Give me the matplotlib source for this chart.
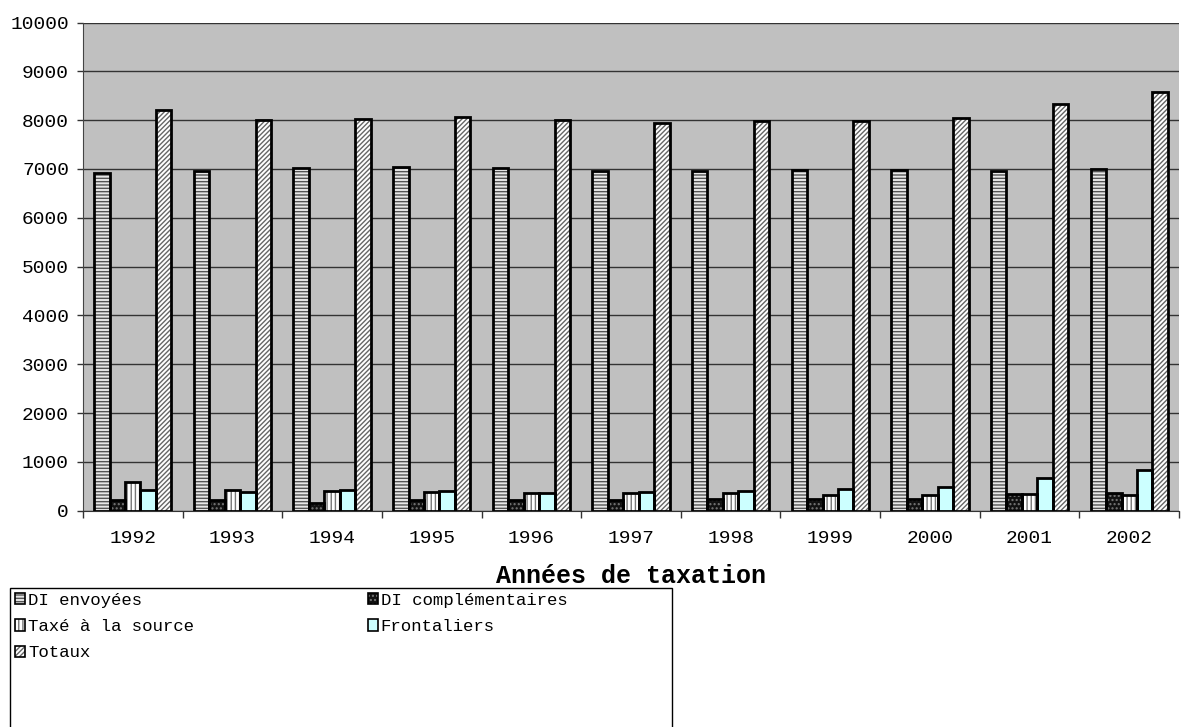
import numpy as np
import matplotlib.pyplot as plt
from matplotlib.patches import Patch, Rectangle

plt.rcParams['font.family'] = ['Liberation Mono', 'DejaVu Sans Mono']
plt.rcParams['hatch.linewidth'] = 1.0

annees = ['1992', '1993', '1994', '1995', '1996', '1997', '1998', '1999', '2000', '2001', '2002']
di_envoyees = [6920, 6950, 7030, 7040, 7030, 6960, 6960, 6970, 6980, 6950, 7010]
di_compl = [225, 210, 165, 220, 210, 210, 240, 230, 240, 350, 370]
taxe_source = [595, 430, 410, 380, 370, 370, 360, 330, 330, 340, 330]
frontaliers = [430, 390, 420, 400, 370, 390, 410, 440, 490, 680, 840]
totaux = [8200, 8000, 8030, 8060, 8000, 7950, 7990, 7990, 8050, 8330, 8580]

series = [
    ('DI envoyées', di_envoyees, '#e8e8e8', '#555555', '-----'),
    ('DI complémentaires', di_compl, '#111111', '#777777', '....'),
    ('Taxé à la source', taxe_source, '#ffffff', '#777777', '||||'),
    ('Frontaliers', frontaliers, '#ccffff', '#000000', None),
    ('Totaux', totaux, '#ffffff', '#666666', '///////'),
]

fig = plt.figure(figsize=(11.85, 7.27), dpi=100)
ax = fig.add_axes([0.070, 0.2975, 0.925, 0.6715])
ax.set_facecolor('#c0c0c0')

x = np.arange(len(annees))
w = 0.155
handles = {}
for i, (nom, vals, fc, hc, hatch) in enumerate(series):
    pos = x + (i - 2) * w
    ax.bar(pos, vals, w, color=fc, edgecolor=hc, hatch=hatch, linewidth=0, zorder=3)
    ax.bar(pos, vals, w, fill=False, edgecolor='black', linewidth=2, zorder=4)
    handles[nom] = (Patch(facecolor=fc, edgecolor=hc, hatch=hatch, linewidth=0),
                    Patch(fill=False, edgecolor='black', linewidth=1.2))

ax.set_xlim(-0.5, len(annees) - 0.5)
ax.set_ylim(0, 10000)
ax.set_yticks(range(0, 10001, 1000))
ax.yaxis.grid(True, color='#333333', linewidth=1, zorder=0)
ax.set_axisbelow(True)
ax.set_xticks(x)
ax.set_xticklabels(annees)
ax.set_xticks(np.arange(-0.5, len(annees)), minor=True)
ax.tick_params(axis='x', which='major', length=0, pad=14, labelsize=14)
ax.tick_params(axis='x', which='minor', length=5, width=1, color='#333333')
ax.tick_params(axis='y', length=4, width=1, color='#333333', pad=6, labelsize=14)
for s in ['top', 'right']:
    ax.spines[s].set_visible(False)
ax.spines['left'].set_color('#444444')
ax.spines['bottom'].set_color('#333333')
ax.set_xlabel('Années de taxation', fontsize=18, fontweight='bold', labelpad=12)

# cadre de la légende (coupé par le bas de l'image)
fig.patches.append(Rectangle((10 / 1185, -0.01), 662 / 1185, (727 - 588) / 727 + 0.01,
                             transform=fig.transFigure, fill=False,
                             edgecolor='black', linewidth=1))

order = ['DI envoyées', 'Taxé à la source', 'Totaux', 'DI complémentaires', 'Frontaliers']
fig.legend([handles[n] for n in order], order, ncol=2,
           loc='upper left', bbox_to_anchor=(15 / 1185, 1 - 593 / 727),
           fontsize=12.5, frameon=False,
           handlelength=0.6, handleheight=0.6, handletextpad=0.15,
           columnspacing=10, labelspacing=0.64, borderpad=0,
           borderaxespad=0)

fig.savefig('out.png', dpi=100)
